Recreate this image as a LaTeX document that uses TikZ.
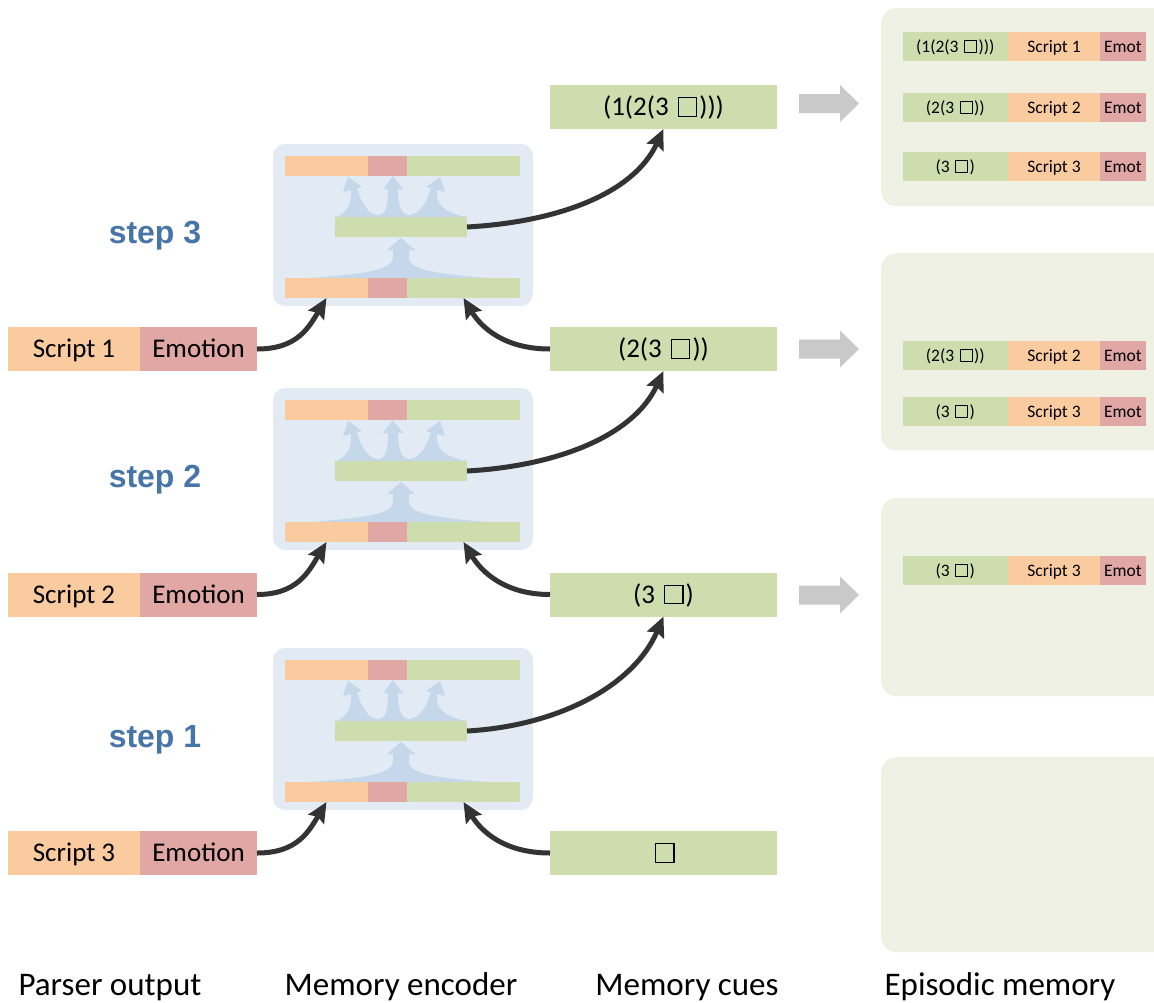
\documentclass[tikz,border=0pt]{standalone}
\usepackage{fontspec}
\setmainfont{Carlito}
\newfontfamily\stepfont{Liberation Sans}
\usetikzlibrary{arrows.meta}

\definecolor{cOr}{HTML}{FACB9F}
\definecolor{cRd}{HTML}{E1A7A5}
\definecolor{cGr}{HTML}{CDDDAD}
\definecolor{cEnc}{HTML}{E2EAF4}
\definecolor{cFan}{HTML}{C5D7EB}
\definecolor{cEpi}{HTML}{EEF1E3}
\definecolor{cGray}{HTML}{C9C9C9}
\definecolor{cInk}{HTML}{333333}
\definecolor{cStep}{HTML}{4875A8}

% empty square used as the hole in a cue
\newcommand\sqbox{{\hspace{0.1em}\setlength\fboxsep{0pt}\setlength\fboxrule{0.045em}\fbox{\rule{0pt}{0.64em}\hspace{0.64em}}\hspace{0.08em}}}

% one stored entry of episodic memory: cue | script | emotion
\newcommand\memrow[4]{%
  \node[cell,small,fill=cGr,minimum width=105.5] (#1c) at (955.25,#2) {#3};
  \node[cell,small,fill=cOr,minimum width=92]    (#1s) at (1054,#2) {#4};
  \node[cell,small,fill=cRd,minimum width=46]    (#1e) at (1123,#2) {Emot};}

\tikzset{
  cell/.style={inner sep=0pt, outer sep=0pt, text depth=0pt, minimum height=44},
  big/.style={font=\fontsize{27}{27}\selectfont, text height=17.3pt},
  small/.style={font=\fontsize{17.5}{17.5}\selectfont, text height=11.2pt, minimum height=29},
  bar/.style={inner sep=0pt, outer sep=0pt, minimum height=19.5},
  encbg/.style={fill=cEnc, rounded corners=12, inner sep=0pt},
  panel/.style={fill=cEpi, rounded corners=15, inner sep=0pt, anchor=north west, minimum width=300},
  fan/.style={fill=cFan},
  steplab/.style={font=\stepfont\bfseries\fontsize{32}{32}\selectfont, text=cStep, anchor=base},
  caption/.style={font=\fontsize{33}{33}\selectfont, anchor=base},
  link/.style={draw=cInk, line width=5pt, -{Stealth[length=20pt,width=18pt,inset=3pt]}},
  grayarr/.pic={\fill[cGray] (0,-9.5) -- (41,-9.5) -- (41,-18.5) -- (60,0) -- (41,18.5) -- (41,9.5) -- (0,9.5) -- cycle;},
  encoder/.pic={
    \node[encbg, minimum width=260, minimum height=162] (-bg) at (403,81) {};
    % flow from the input row up into the hidden bar
    \fill[fan] (313,134) .. controls (355,130) and (392,128) .. (393,114) -- (393,106) -- (387,106)
      -- (401,94) -- (415,106) -- (409,106) -- (409,114) .. controls (410,128) and (447,130) .. (485,134) -- cycle;
    % flow from the hidden bar up into the reconstructed row
    \fill[fan] (337,73) .. controls (348,68) and (352,58) .. (351,46) -- (343,48) -- (348,33) -- (362,43) -- (357,44.5)
      .. controls (362,62) and (370,71) .. (378,71) .. controls (386,71) and (388,62) .. (388,45)
      -- (383,45) -- (393,32) -- (403,45) -- (398,45)
      .. controls (398,62) and (402,71) .. (409,71) .. controls (417,71) and (426,62) .. (431,44.5)
      -- (426,43) -- (440,33) -- (445,48) -- (437,46) .. controls (436,58) and (440,68) .. (467,73) -- cycle;
    \node[bar, fill=cOr, minimum width=83]  (-to) at (326.5,21.75) {};
    \node[bar, fill=cRd, minimum width=39]  (-tr) at (387.5,21.75) {};
    \node[bar, fill=cGr, minimum width=113] (-tg) at (463.5,21.75) {};
    \node[bar, fill=cGr, minimum width=132, minimum height=20] (-mid) at (401,83) {};
    \node[bar, fill=cOr, minimum width=83, minimum height=20]  (-bo)  at (326.5,144) {};
    \node[bar, fill=cRd, minimum width=39, minimum height=20]  (-br)  at (387.5,144) {};
    \node[bar, fill=cGr, minimum width=113, minimum height=20] (-bgr) at (463.5,144) {};
    \node[steplab] (-lab) at (155,99) {step #1};
  }
}

\begin{document}
\begin{tikzpicture}[x=1pt, y=-1pt]
  \useasboundingbox (0,0) rectangle (1154,1002);
  \fill[white] (0,0) rectangle (1154,1002);

  % episodic memory panels (cut by the right edge)
  \begin{scope}
    \clip (0,0) rectangle (1154,1002);
    \node[panel, minimum height=198] (ep1) at (881,8) {};
    \node[panel, minimum height=197] (ep2) at (881,253) {};
    \node[panel, minimum height=198] (ep3) at (881,498) {};
    \node[panel, minimum height=195] (ep4) at (881,757) {};
  \end{scope}

  \memrow{m11}{46.5}{(1(2(3 \sqbox)))}{Script 1}
  \memrow{m12}{107.5}{(2(3 \sqbox))}{Script 2}
  \memrow{m13}{166.5}{(3 \sqbox)}{Script 3}
  \memrow{m21}{355.5}{(2(3 \sqbox))}{Script 2}
  \memrow{m22}{411.5}{(3 \sqbox)}{Script 3}
  \memrow{m31}{570.5}{(3 \sqbox)}{Script 3}

  % storing cues into episodic memory
  \pic (g1) at (799,103.5) {grayarr};
  \pic (g2) at (799,349) {grayarr};
  \pic (g3) at (799,595) {grayarr};

  % memory encoder, one per step
  \pic (e3) at (0,144) {encoder=3};
  \pic (e2) at (0,388) {encoder=2};
  \pic (e1) at (0,648) {encoder=1};

  % parser output
  \node[cell,big,fill=cOr,minimum width=132] (sc1) at (74,349) {Script 1};
  \node[cell,big,fill=cRd,minimum width=117] (em1) at (198.5,349) {Emotion};
  \node[cell,big,fill=cOr,minimum width=132] (sc2) at (74,594.5) {Script 2};
  \node[cell,big,fill=cRd,minimum width=117] (em2) at (198.5,594.5) {Emotion};
  \node[cell,big,fill=cOr,minimum width=132] (sc3) at (74,853) {Script 3};
  \node[cell,big,fill=cRd,minimum width=117] (em3) at (198.5,853) {Emotion};

  % memory cues
  \node[cell,big,fill=cGr,minimum width=227] (cue1) at (663.5,107) {(1(2(3 \sqbox)))};
  \node[cell,big,fill=cGr,minimum width=227] (cue2) at (663.5,349) {(2(3 \sqbox))};
  \node[cell,big,fill=cGr,minimum width=227] (cue3) at (663.5,594.5) {(3 \sqbox)};
  \node[cell,big,fill=cGr,minimum width=227] (cue4) at (663.5,853) {\sqbox};

  % inputs into each encoder and its output cue
  \draw[link] (em1.east)  .. controls +(40,0) and +(-18,30) .. (e3-bo.south);
  \draw[link] (cue2.west) .. controls +(-45,0) and +(18,30) .. (e3-bgr.south);
  \draw[link] (e3-mid.east) .. controls +(90,-5) and +(-30,65) .. (cue1.south);

  \draw[link] (em2.east)  .. controls +(40,0) and +(-18,30) .. (e2-bo.south);
  \draw[link] (cue3.west) .. controls +(-45,0) and +(18,30) .. (e2-bgr.south);
  \draw[link] (e2-mid.east) .. controls +(90,-5) and +(-30,65) .. (cue2.south);

  \draw[link] (em3.east)  .. controls +(40,0) and +(-18,30) .. (e1-bo.south);
  \draw[link] (cue4.west) .. controls +(-45,0) and +(18,30) .. (e1-bgr.south);
  \draw[link] (e1-mid.east) .. controls +(90,-5) and +(-30,70) .. (cue3.south);

  % column captions
  \node[caption] (cap1) at (110,995) {Parser output};
  \node[caption] (cap2) at (401,995) {Memory encoder};
  \node[caption] (cap3) at (687,995) {Memory cues};
  \node[caption] (cap4) at (1000,995) {Episodic memory};
\end{tikzpicture}
\end{document}
